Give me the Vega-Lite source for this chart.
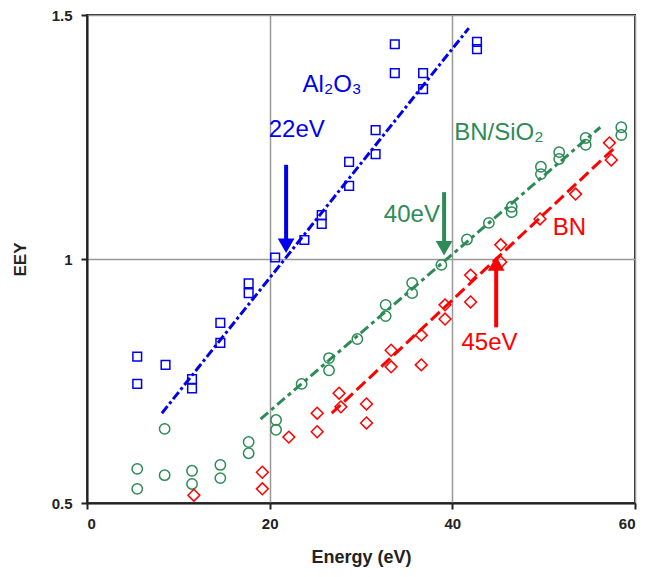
{
  "$schema": "https://vega.github.io/schema/vega-lite/v6.json",
  "width": 548,
  "height": 488,
  "autosize": {"type": "none"},
  "padding": {"left": 87, "top": 15, "right": 11, "bottom": 74},
  "background": "white",
  "config": {
    "view": {"stroke": "#222222", "strokeWidth": 2},
    "font": "Liberation Sans",
    "axis": {
      "labelFont": "Liberation Sans",
      "titleFont": "Liberation Sans",
      "labelColor": "#222222",
      "titleColor": "#222222",
      "labelFontSize": 15,
      "labelFontWeight": "bold",
      "titleFontSize": 18,
      "titleFontWeight": "bold",
      "domainColor": "#222222",
      "domainWidth": 2,
      "tickColor": "#222222",
      "tickWidth": 2,
      "tickSize": 6,
      "gridColor": "#999999",
      "gridWidth": 1.5
    }
  },
  "datasets": {
    "pts": [
      {"s": "Al2O3", "x": 5.5, "y": 0.80},
      {"s": "Al2O3", "x": 5.5, "y": 0.744},
      {"s": "Al2O3", "x": 8.6, "y": 0.783},
      {"s": "Al2O3", "x": 11.5, "y": 0.754},
      {"s": "Al2O3", "x": 11.5, "y": 0.735},
      {"s": "Al2O3", "x": 14.6, "y": 0.869},
      {"s": "Al2O3", "x": 14.6, "y": 0.828},
      {"s": "Al2O3", "x": 17.7, "y": 0.95},
      {"s": "Al2O3", "x": 17.7, "y": 0.93},
      {"s": "Al2O3", "x": 20.6, "y": 1.003},
      {"s": "Al2O3", "x": 23.8, "y": 1.039},
      {"s": "Al2O3", "x": 25.7, "y": 1.09},
      {"s": "Al2O3", "x": 25.7, "y": 1.072},
      {"s": "Al2O3", "x": 28.7, "y": 1.15},
      {"s": "Al2O3", "x": 28.7, "y": 1.199},
      {"s": "Al2O3", "x": 31.6, "y": 1.215},
      {"s": "Al2O3", "x": 31.6, "y": 1.264},
      {"s": "Al2O3", "x": 33.7, "y": 1.381},
      {"s": "Al2O3", "x": 33.7, "y": 1.44},
      {"s": "Al2O3", "x": 36.8, "y": 1.381},
      {"s": "Al2O3", "x": 36.8, "y": 1.348},
      {"s": "Al2O3", "x": 42.7, "y": 1.445},
      {"s": "Al2O3", "x": 42.7, "y": 1.43},
      {"s": "BN/SiO2", "x": 5.5, "y": 0.57},
      {"s": "BN/SiO2", "x": 5.5, "y": 0.529},
      {"s": "BN/SiO2", "x": 8.5, "y": 0.652},
      {"s": "BN/SiO2", "x": 8.5, "y": 0.557},
      {"s": "BN/SiO2", "x": 11.5, "y": 0.566},
      {"s": "BN/SiO2", "x": 11.5, "y": 0.539},
      {"s": "BN/SiO2", "x": 14.6, "y": 0.578},
      {"s": "BN/SiO2", "x": 14.6, "y": 0.551},
      {"s": "BN/SiO2", "x": 17.7, "y": 0.625},
      {"s": "BN/SiO2", "x": 17.7, "y": 0.602},
      {"s": "BN/SiO2", "x": 20.7, "y": 0.67},
      {"s": "BN/SiO2", "x": 20.7, "y": 0.65},
      {"s": "BN/SiO2", "x": 23.5, "y": 0.744},
      {"s": "BN/SiO2", "x": 26.5, "y": 0.797},
      {"s": "BN/SiO2", "x": 26.5, "y": 0.772},
      {"s": "BN/SiO2", "x": 29.6, "y": 0.836},
      {"s": "BN/SiO2", "x": 32.7, "y": 0.906},
      {"s": "BN/SiO2", "x": 32.7, "y": 0.883},
      {"s": "BN/SiO2", "x": 35.6, "y": 0.951},
      {"s": "BN/SiO2", "x": 35.6, "y": 0.93},
      {"s": "BN/SiO2", "x": 38.8, "y": 0.988},
      {"s": "BN/SiO2", "x": 41.6, "y": 1.04},
      {"s": "BN/SiO2", "x": 44.0, "y": 1.074},
      {"s": "BN/SiO2", "x": 46.5, "y": 1.107},
      {"s": "BN/SiO2", "x": 46.5, "y": 1.096},
      {"s": "BN/SiO2", "x": 49.7, "y": 1.189},
      {"s": "BN/SiO2", "x": 49.7, "y": 1.174},
      {"s": "BN/SiO2", "x": 51.7, "y": 1.219},
      {"s": "BN/SiO2", "x": 51.7, "y": 1.205},
      {"s": "BN/SiO2", "x": 54.6, "y": 1.248},
      {"s": "BN/SiO2", "x": 54.6, "y": 1.234},
      {"s": "BN/SiO2", "x": 58.5, "y": 1.27},
      {"s": "BN/SiO2", "x": 58.5, "y": 1.254},
      {"s": "BN", "x": 11.7, "y": 0.516},
      {"s": "BN", "x": 19.2, "y": 0.563},
      {"s": "BN", "x": 19.2, "y": 0.529},
      {"s": "BN", "x": 22.1, "y": 0.635},
      {"s": "BN", "x": 25.2, "y": 0.684},
      {"s": "BN", "x": 25.2, "y": 0.646},
      {"s": "BN", "x": 27.6, "y": 0.725},
      {"s": "BN", "x": 27.8, "y": 0.697},
      {"s": "BN", "x": 30.6, "y": 0.703},
      {"s": "BN", "x": 30.6, "y": 0.664},
      {"s": "BN", "x": 33.3, "y": 0.813},
      {"s": "BN", "x": 33.3, "y": 0.779},
      {"s": "BN", "x": 36.6, "y": 0.844},
      {"s": "BN", "x": 36.6, "y": 0.783},
      {"s": "BN", "x": 39.2, "y": 0.906},
      {"s": "BN", "x": 39.2, "y": 0.877},
      {"s": "BN", "x": 42.0, "y": 0.967},
      {"s": "BN", "x": 42.0, "y": 0.912},
      {"s": "BN", "x": 45.3, "y": 1.029},
      {"s": "BN", "x": 45.3, "y": 0.994},
      {"s": "BN", "x": 49.6, "y": 1.082},
      {"s": "BN", "x": 53.5, "y": 1.133},
      {"s": "BN", "x": 57.2, "y": 1.238},
      {"s": "BN", "x": 57.4, "y": 1.203}
    ],
    "fits": [
      {"s": "Al2O3", "x": 8.2, "y": 0.684},
      {"s": "Al2O3", "x": 41.8, "y": 1.473},
      {"s": "BN/SiO2", "x": 19.0, "y": 0.672},
      {"s": "BN/SiO2", "x": 56.2, "y": 1.27},
      {"s": "BN", "x": 26.8, "y": 0.684},
      {"s": "BN", "x": 58.0, "y": 1.232}
    ],
    "arrows": [
      {"s": "Al2O3", "x": 21.8, "y1": 1.193, "y2": 1.035, "head": 1.027, "dir": "down"},
      {"s": "BN/SiO2", "x": 39.1, "y1": 1.137, "y2": 1.03, "head": 1.022, "dir": "down"},
      {"s": "BN", "x": 44.8, "y1": 0.86, "y2": 0.985, "head": 0.991, "dir": "up"}
    ],
    "labels": [
      {"s": "Al2O3", "x": 23.6, "y": 1.357, "t": "Al₂O₃"},
      {"s": "Al2O3", "x": 19.9, "y": 1.264, "t": "22eV"},
      {"s": "BN/SiO2", "x": 40.2, "y": 1.258, "t": "BN/SiO₂"},
      {"s": "BN/SiO2", "x": 32.5, "y": 1.09, "t": "40eV"},
      {"s": "BN", "x": 51.0, "y": 1.063, "t": "BN"},
      {"s": "BN", "x": 41.0, "y": 0.828, "t": "45eV"}
    ]
  },
  "layer": [
    {
      "data": {"name": "fits"},
      "mark": {"type": "line", "strokeWidth": 3},
      "encoding": {
        "x": {"field": "x", "type": "quantitative", "scale": {"domain": [0, 60], "nice": false}, "axis": {"title": "Energy (eV)", "values": [0, 20, 40, 60], "gridValues": [20, 40], "labelPadding": 7, "titlePadding": 17}},
        "y": {"field": "y", "type": "quantitative", "scale": {"domain": [0.5, 1.5], "nice": false, "zero": false}, "axis": {"title": "EEY", "values": [0.5, 1, 1.5], "format": ".1~f", "gridValues": [1], "labelPadding": 9, "titlePadding": 22, "titleFontSize": 17}},
        "color": {"field": "s", "type": "nominal", "scale": {"domain": ["Al2O3", "BN/SiO2", "BN"], "range": ["#0000ee", "#2e8b57", "#ff0000"]}, "legend": null},
        "strokeDash": {"field": "s", "type": "nominal", "scale": {"domain": ["Al2O3", "BN/SiO2", "BN"], "range": [[9, 3, 3, 3], [10, 4, 4, 4], [12, 5]]}, "legend": null},
        "detail": {"field": "s"}
      }
    },
    {
      "data": {"name": "pts"},
      "mark": {"type": "point", "filled": false, "strokeWidth": 1.5, "opacity": 1},
      "encoding": {
        "x": {"field": "x", "type": "quantitative"},
        "y": {"field": "y", "type": "quantitative"},
        "color": {"field": "s", "type": "nominal", "legend": null},
        "shape": {"field": "s", "type": "nominal", "scale": {"domain": ["Al2O3", "BN/SiO2", "BN"], "range": ["square", "circle", "diamond"]}, "legend": null},
        "size": {"field": "s", "type": "nominal", "scale": {"domain": ["Al2O3", "BN/SiO2", "BN"], "range": [75, 140, 150]}, "legend": null}
      }
    },
    {
      "data": {"name": "arrows"},
      "mark": {"type": "rule", "strokeWidth": 4},
      "encoding": {
        "x": {"field": "x", "type": "quantitative"},
        "y": {"field": "y1", "type": "quantitative"},
        "y2": {"field": "y2"},
        "color": {"field": "s", "type": "nominal", "legend": null}
      }
    },
    {
      "data": {"name": "arrows"},
      "transform": [{"filter": "datum.dir === 'down'"}],
      "mark": {"type": "point", "filled": true, "opacity": 1, "size": 280, "shape": "triangle-down"},
      "encoding": {
        "x": {"field": "x", "type": "quantitative"},
        "y": {"field": "head", "type": "quantitative"},
        "color": {"field": "s", "type": "nominal", "legend": null}
      }
    },
    {
      "data": {"name": "arrows"},
      "transform": [{"filter": "datum.dir === 'up'"}],
      "mark": {"type": "point", "filled": true, "opacity": 1, "size": 280, "shape": "triangle-up"},
      "encoding": {
        "x": {"field": "x", "type": "quantitative"},
        "y": {"field": "head", "type": "quantitative"},
        "color": {"field": "s", "type": "nominal", "legend": null}
      }
    },
    {
      "data": {"name": "labels"},
      "mark": {"type": "text", "align": "left", "baseline": "middle", "fontSize": 24, "font": "Liberation Sans"},
      "encoding": {
        "x": {"field": "x", "type": "quantitative"},
        "y": {"field": "y", "type": "quantitative"},
        "text": {"field": "t"},
        "color": {"field": "s", "type": "nominal", "legend": null}
      }
    }
  ]
}
